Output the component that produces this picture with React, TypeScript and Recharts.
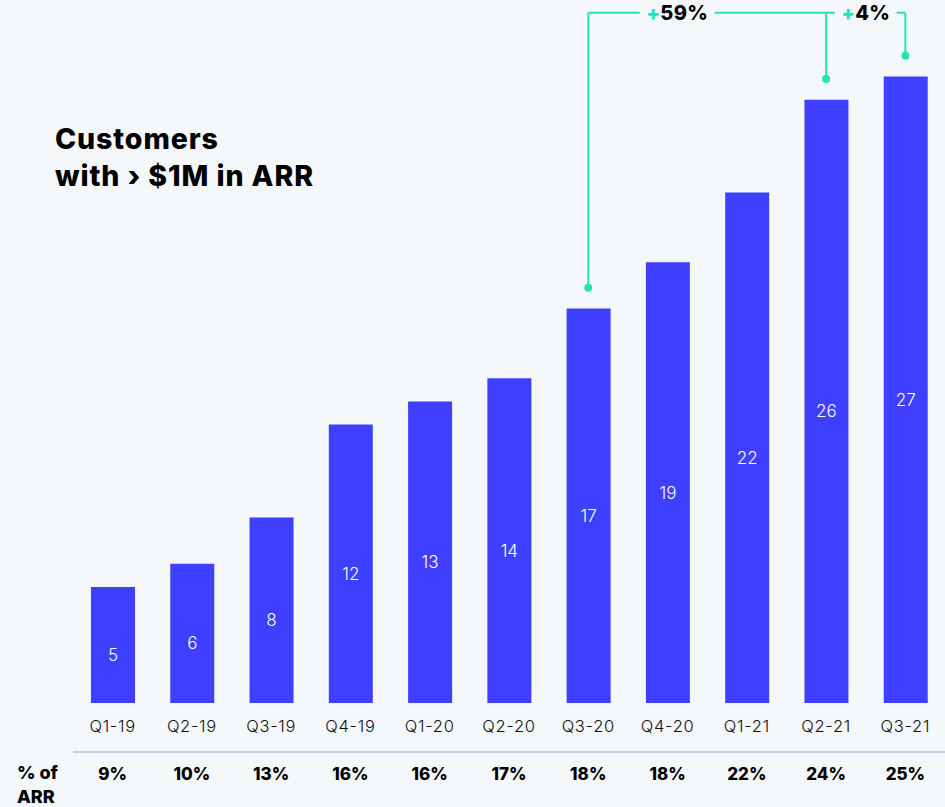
import { Bar, BarChart, LabelList, ReferenceDot, ReferenceLine, XAxis, YAxis } from 'recharts';

const quarters = ['Q1-19', 'Q2-19', 'Q3-19', 'Q4-19', 'Q1-20', 'Q2-20', 'Q3-20', 'Q4-20', 'Q1-21', 'Q2-21', 'Q3-21'];
const customers = [5, 6, 8, 12, 13, 14, 17, 19, 22, 26, 27];
const arrShare = [9, 10, 13, 16, 16, 17, 18, 18, 22, 24, 25];

const growthNotes = [
  { from: 'Q3-20', to: 'Q2-21', label: '59%' },
  { from: 'Q2-21', to: 'Q3-21', label: '4%' }
];

const BG = '#f4f8fb';
const BLUE = '#3f3fff';
const TEAL = '#1fe6b4';
const FONT = 'Inter, "Noto Sans", sans-serif';
const BRACKET_Y = 29.75;
const DOT_GAP = 0.9;

const data = quarters.map((q, i) => ({ quarter: q, customers: customers[i], share: arrShare[i] }));
const valueOf = (q: string) => customers[quarters.indexOf(q)];
const notedQuarters = growthNotes
  .map((n) => [n.from, n.to])
  .flat()
  .filter((q, i, a) => a.indexOf(q) === i);

// label sits a bit left of the middle on the long bracket
const labelShift = [-30, 0];

function GrowthLabel(props: any) {
  const { viewBox, text, shift } = props;
  if (!viewBox) return null;
  const cx = viewBox.x + viewBox.width / 2 + shift;
  const cy = viewBox.y;
  const w = text.length * 13 + 36;
  return (
    <g>
      <rect x={cx - w / 2} y={cy - 6} width={w} height={12} fill={BG} />
      <text x={cx} y={cy + 7} textAnchor='middle' fontFamily={FONT} fontWeight={800} fontSize={20} letterSpacing={0.3}>
        <tspan fill={TEAL}>+</tspan>
        <tspan fill='#000'>{text}</tspan>
      </text>
    </g>
  );
}

function ValueLabel(props: any) {
  const { x, y, width, height, value } = props;
  return (
    <text
      x={x + width / 2}
      y={y + height / 2 + 16}
      textAnchor='middle'
      fill='#fff'
      fontSize={17}
      fontFamily={FONT}
      fontWeight={300}>
      {value}
    </text>
  );
}

export default function App() {
  return (
    <div style={{ position: 'absolute', top: 0, left: 0, width: 945, height: 807, background: BG, overflow: 'hidden' }}>
      <div
        style={{
          position: 'absolute',
          left: 55,
          top: 120,
          fontFamily: FONT,
          fontWeight: 800,
          fontSize: 28.5,
          lineHeight: '37px',
          color: '#000',
          letterSpacing: 0.9
        }}>
        Customers
        <br />
        with › $1M in ARR
      </div>
      <div
        style={{
          position: 'absolute',
          left: 17,
          top: 761,
          fontFamily: FONT,
          fontWeight: 800,
          fontSize: 18,
          lineHeight: '24px',
          color: '#000'
        }}>
        % of
        <br />
        ARR
      </div>
      <BarChart width={945} height={807} data={data} margin={{ top: 7, right: 0, left: 73, bottom: 15 }}>
        <YAxis hide domain={[0, 30]} />
        <XAxis
          xAxisId={0}
          dataKey='quarter'
          axisLine={false}
          tickLine={false}
          tickSize={0}
          tickMargin={17}
          height={49}
          interval={0}
          tick={{ fill: '#111', fontSize: 16.5, fontFamily: FONT, fontWeight: 300, letterSpacing: 0.7 }}
        />
        <XAxis
          xAxisId='pct'
          dataKey='quarter'
          axisLine={{ stroke: '#c8cbe3', strokeWidth: 2 }}
          tickLine={false}
          tickSize={0}
          tickMargin={16}
          height={40}
          interval={0}
          tickFormatter={(_v, i) => `${arrShare[i]}%`}
          tick={{ fill: '#000', fontSize: 17, fontFamily: FONT, fontWeight: 800 }}
        />
        <Bar dataKey='customers' fill={BLUE} barSize={44} isAnimationActive={false}>
          <LabelList dataKey='customers' content={ValueLabel} />
        </Bar>

        {notedQuarters.map((q) => (
          <ReferenceLine
            key={`v-${q}`}
            segment={[
              { x: q, y: valueOf(q) + DOT_GAP },
              { x: q, y: BRACKET_Y }
            ]}
            stroke={TEAL}
            strokeWidth={2}
          />
        ))}
        {growthNotes.map((n, i) => (
          <ReferenceLine
            key={`h-${n.from}`}
            segment={[
              { x: n.from, y: BRACKET_Y },
              { x: n.to, y: BRACKET_Y }
            ]}
            stroke={TEAL}
            strokeWidth={2}
            label={(p: any) => <GrowthLabel {...p} text={n.label} shift={labelShift[i]} />}
          />
        ))}
        {notedQuarters.map((q) => (
          <ReferenceDot key={`d-${q}`} x={q} y={valueOf(q) + DOT_GAP} r={4} fill={TEAL} stroke='none' />
        ))}
      </BarChart>
    </div>
  );
}
